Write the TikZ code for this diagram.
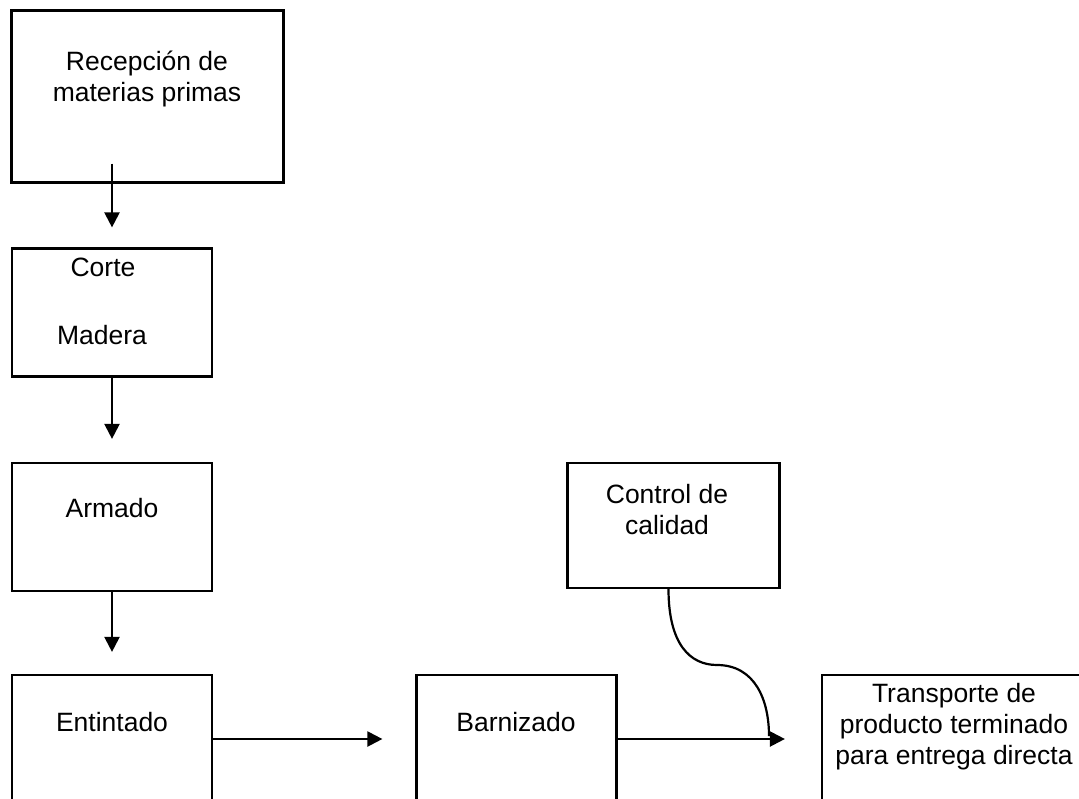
\documentclass[tikz,border=0pt]{standalone}
\usepackage{fontspec}
\setmainfont{Liberation Sans}
\usetikzlibrary{arrows.meta,positioning}

\tikzset{
  caja/.style={draw, rectangle, minimum width=200pt, minimum height=128pt, inner sep=0pt},
  texto/.style={align=center, font=\fontsize{26.5}{31}\selectfont, inner sep=0pt},
  flecha/.style={->}
}

\begin{document}
\begin{tikzpicture}[x=1pt,y=-1pt,>={Triangle[length=15pt,width=15pt]},line width=2.2pt]
    \clip (0,0) rectangle (1079,798);

    % cajas
    \node[caja, minimum width=272pt, minimum height=172pt] (recep) at (147.5,96.5) {};
    \node[caja] (corte)     at (112,312.5) {};
    \node[caja] (armado)    at (112,527)   {};
    \node[caja] (entintado) at (112,739)   {};
    \node[caja] (barnizado) at (516.5,739) {};
    \node[caja, minimum width=212pt, minimum height=125pt] (control) at (673.5,525.5) {};
    \node[caja, minimum width=270pt] (transporte) at (957,739) {};

    % textos
    \node[texto] (recep-t)      at (147,79)  {Recepción de\\materias primas};
    \node[texto] (corte-t)      at (103,267) {Corte};
    \node[texto] (madera-t)     at (102,335) {Madera};
    \node[texto] (armado-t)     at (112,508) {Armado};
    \node[texto] (entintado-t)  at (112,722) {Entintado};
    \node[texto] (barnizado-t)  at (516,722) {Barnizado};
    \node[texto] (control-t)    at (667,510) {Control de\\calidad};
    \node[texto] (transporte-t) at (954,727) {Transporte de\\producto terminado\\para entrega directa};

    \coordinate (cruce) at (769,736);

    \draw[flecha, shorten >=20pt] ([yshift=20pt]recep.south -| corte.north) -- (corte.north);
    \draw[flecha, shorten >=23pt] (corte) -- (armado);
    \draw[flecha, shorten >=22pt] (armado) -- (entintado);
    \draw[flecha, shorten >=33pt] (entintado) -- (barnizado);
    \draw[flecha, shorten >=36pt] (barnizado) -- (transporte);
    \draw ([xshift=-5pt]control.south) .. controls +(0,55) and (690,665) .. (717,665)
          .. controls (755,665) and (769,700) .. (cruce);
\end{tikzpicture}
\end{document}
